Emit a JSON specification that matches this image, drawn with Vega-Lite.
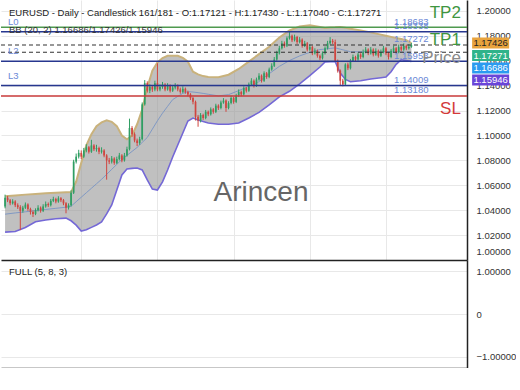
{
  "$schema": "https://vega.github.io/schema/vega-lite/v6.json",
  "padding": 0,
  "spacing": 0,
  "background": "white",
  "config": {
    "view": {"stroke": null},
    "font": "Liberation Sans",
    "axis": {"domainColor": "#222", "domainWidth": 1.5, "gridColor": "#e8e8e8", "ticks": false, "labelFont": "Liberation Sans", "labelFontSize": 9.5, "labelColor": "#333", "labelPadding": 9, "labelOverlap": false}
  },
  "datasets": {
    "bands": [
      {"i":0,"up":1.0512,"lo":1.0224,"mid":1.0368},{"i":4,"up":1.0518,"lo":1.0229,"mid":1.0378},{"i":8,"up":1.0525,"lo":1.0261,"mid":1.0387},{"i":12,"up":1.0531,"lo":1.0307,"mid":1.0397},{"i":16,"up":1.0536,"lo":1.0321,"mid":1.0406},{"i":20,"up":1.0541,"lo":1.0331,"mid":1.0415},{"i":24,"up":1.0544,"lo":1.0336,"mid":1.0424},{"i":26,"up":1.0545,"lo":1.0315,"mid":1.0432},{"i":28,"up":1.063,"lo":1.028,"mid":1.0468},{"i":30,"up":1.078,"lo":1.0232,"mid":1.0504},{"i":32,"up":1.092,"lo":1.0243,"mid":1.054},{"i":34,"up":1.101,"lo":1.0262,"mid":1.0576},{"i":36,"up":1.1075,"lo":1.0281,"mid":1.0612},{"i":38,"up":1.1105,"lo":1.0305,"mid":1.0648},{"i":40,"up":1.1122,"lo":1.037,"mid":1.0688},{"i":42,"up":1.111,"lo":1.0442,"mid":1.0728},{"i":44,"up":1.1075,"lo":1.0562,"mid":1.0768},{"i":46,"up":1.1,"lo":1.0683,"mid":1.0808},{"i":48,"up":1.097,"lo":1.0731,"mid":1.084},{"i":50,"up":1.1,"lo":1.0736,"mid":1.0872},{"i":52,"up":1.109,"lo":1.0739,"mid":1.0904},{"i":54,"up":1.1208,"lo":1.0723,"mid":1.0944},{"i":56,"up":1.1384,"lo":1.0643,"mid":1.0984},{"i":58,"up":1.152,"lo":1.057,"mid":1.1051},{"i":60,"up":1.1586,"lo":1.0562,"mid":1.1118},{"i":62,"up":1.1622,"lo":1.0627,"mid":1.1179},{"i":64,"up":1.164,"lo":1.0723,"mid":1.1234},{"i":66,"up":1.164,"lo":1.0827,"mid":1.1288},{"i":68,"up":1.164,"lo":1.0924,"mid":1.1314},{"i":70,"up":1.1624,"lo":1.102,"mid":1.1339},{"i":72,"up":1.1592,"lo":1.1116,"mid":1.1352},{"i":74,"up":1.1512,"lo":1.114,"mid":1.1349},{"i":76,"up":1.1491,"lo":1.1124,"mid":1.1344},{"i":78,"up":1.1477,"lo":1.1112,"mid":1.1338},{"i":80,"up":1.147,"lo":1.11,"mid":1.1331},{"i":84,"up":1.1468,"lo":1.109,"mid":1.1318},{"i":88,"up":1.1488,"lo":1.109,"mid":1.1328},{"i":92,"up":1.1534,"lo":1.11,"mid":1.136},{"i":96,"up":1.1593,"lo":1.114,"mid":1.1395},{"i":100,"up":1.1653,"lo":1.1185,"mid":1.1432},{"i":104,"up":1.1712,"lo":1.1245,"mid":1.1496},{"i":108,"up":1.1787,"lo":1.131,"mid":1.1555},{"i":112,"up":1.1843,"lo":1.1355,"mid":1.1602},{"i":116,"up":1.1876,"lo":1.1415,"mid":1.1639},{"i":120,"up":1.1885,"lo":1.148,"mid":1.1668},{"i":124,"up":1.1871,"lo":1.155,"mid":1.169},{"i":126,"up":1.1864,"lo":1.159,"mid":1.1694},{"i":128,"up":1.1867,"lo":1.1592,"mid":1.1699},{"i":130,"up":1.1869,"lo":1.1592,"mid":1.1704},{"i":132,"up":1.1872,"lo":1.1502,"mid":1.1693},{"i":134,"up":1.1865,"lo":1.145,"mid":1.1683},{"i":136,"up":1.1858,"lo":1.1432,"mid":1.1672},{"i":140,"up":1.1844,"lo":1.144,"mid":1.1672},{"i":144,"up":1.1828,"lo":1.1453,"mid":1.1672},{"i":148,"up":1.181,"lo":1.1464,"mid":1.1672},{"i":150,"up":1.1801,"lo":1.1469,"mid":1.1672},{"i":152,"up":1.1792,"lo":1.1512,"mid":1.1671},{"i":154,"up":1.1783,"lo":1.1571,"mid":1.1671},{"i":156,"up":1.1774,"lo":1.1608,"mid":1.167},{"i":158,"up":1.1765,"lo":1.1601,"mid":1.1669},{"i":160,"up":1.17426,"lo":1.15946,"mid":1.16686}
    ],
    "candles": [
      {"i":0,"o":1.043,"h":1.0525,"l":1.0415,"c":1.05},{"i":1,"o":1.05,"h":1.0515,"l":1.0465,"c":1.048},{"i":2,"o":1.048,"h":1.049,"l":1.044,"c":1.0455},{"i":3,"o":1.0455,"h":1.0488,"l":1.0445,"c":1.047},{"i":4,"o":1.047,"h":1.048,"l":1.0425,"c":1.044},{"i":5,"o":1.044,"h":1.0455,"l":1.041,"c":1.0425},{"i":6,"o":1.0425,"h":1.044,"l":1.024,"c":1.0395},{"i":7,"o":1.0395,"h":1.0435,"l":1.038,"c":1.042},{"i":8,"o":1.042,"h":1.0462,"l":1.041,"c":1.0445},{"i":9,"o":1.0445,"h":1.0455,"l":1.0395,"c":1.041},
      {"i":10,"o":1.041,"h":1.042,"l":1.0365,"c":1.0385},{"i":11,"o":1.0385,"h":1.0398,"l":1.0345,"c":1.037},{"i":12,"o":1.037,"h":1.0415,"l":1.036,"c":1.04},{"i":13,"o":1.04,"h":1.044,"l":1.039,"c":1.042},{"i":14,"o":1.042,"h":1.043,"l":1.038,"c":1.0395},{"i":15,"o":1.0395,"h":1.0448,"l":1.0385,"c":1.043},{"i":16,"o":1.043,"h":1.047,"l":1.042,"c":1.045},{"i":17,"o":1.045,"h":1.0462,"l":1.0425,"c":1.044},{"i":18,"o":1.044,"h":1.049,"l":1.043,"c":1.0475},{"i":19,"o":1.0475,"h":1.0508,"l":1.0465,"c":1.049},
      {"i":20,"o":1.049,"h":1.05,"l":1.0455,"c":1.047},{"i":21,"o":1.047,"h":1.0512,"l":1.046,"c":1.0495},{"i":22,"o":1.0495,"h":1.0505,"l":1.0465,"c":1.048},{"i":23,"o":1.048,"h":1.049,"l":1.044,"c":1.0455},{"i":24,"o":1.0455,"h":1.0465,"l":1.0375,"c":1.042},{"i":25,"o":1.042,"h":1.0455,"l":1.0405,"c":1.044},{"i":26,"o":1.044,"h":1.056,"l":1.043,"c":1.054},{"i":27,"o":1.054,"h":1.0805,"l":1.053,"c":1.079},{"i":28,"o":1.079,"h":1.0855,"l":1.0775,"c":1.083},{"i":29,"o":1.083,"h":1.0885,"l":1.0815,"c":1.086},
      {"i":30,"o":1.086,"h":1.088,"l":1.081,"c":1.083},{"i":31,"o":1.083,"h":1.09,"l":1.082,"c":1.088},{"i":32,"o":1.088,"h":1.093,"l":1.0865,"c":1.0905},{"i":33,"o":1.0905,"h":1.0915,"l":1.0855,"c":1.087},{"i":34,"o":1.087,"h":1.0965,"l":1.086,"c":1.092},{"i":35,"o":1.092,"h":1.093,"l":1.0875,"c":1.089},{"i":36,"o":1.089,"h":1.0925,"l":1.087,"c":1.09},{"i":37,"o":1.09,"h":1.091,"l":1.085,"c":1.087},{"i":38,"o":1.087,"h":1.0905,"l":1.0855,"c":1.088},{"i":39,"o":1.088,"h":1.089,"l":1.0825,"c":1.084},
      {"i":40,"o":1.084,"h":1.085,"l":1.0645,"c":1.08},{"i":41,"o":1.08,"h":1.082,"l":1.077,"c":1.079},{"i":42,"o":1.079,"h":1.0835,"l":1.0775,"c":1.0815},{"i":43,"o":1.0815,"h":1.0825,"l":1.0765,"c":1.078},{"i":44,"o":1.078,"h":1.083,"l":1.077,"c":1.081},{"i":45,"o":1.081,"h":1.086,"l":1.08,"c":1.084},{"i":46,"o":1.084,"h":1.085,"l":1.0785,"c":1.08},{"i":47,"o":1.08,"h":1.086,"l":1.079,"c":1.084},{"i":48,"o":1.084,"h":1.091,"l":1.083,"c":1.089},{"i":49,"o":1.089,"h":1.1135,"l":1.088,"c":1.106},
      {"i":50,"o":1.106,"h":1.1075,"l":1.099,"c":1.101},{"i":51,"o":1.101,"h":1.1025,"l":1.0945,"c":1.096},{"i":52,"o":1.096,"h":1.0975,"l":1.0915,"c":1.094},{"i":53,"o":1.094,"h":1.099,"l":1.0925,"c":1.097},{"i":54,"o":1.097,"h":1.1265,"l":1.096,"c":1.125},{"i":55,"o":1.125,"h":1.1445,"l":1.124,"c":1.142},{"i":56,"o":1.142,"h":1.1435,"l":1.1345,"c":1.136},{"i":57,"o":1.136,"h":1.141,"l":1.134,"c":1.139},{"i":58,"o":1.139,"h":1.1405,"l":1.135,"c":1.137},{"i":59,"o":1.137,"h":1.144,"l":1.1355,"c":1.142},
      {"i":60,"o":1.142,"h":1.158,"l":1.1355,"c":1.137},{"i":61,"o":1.137,"h":1.141,"l":1.1355,"c":1.139},{"i":62,"o":1.139,"h":1.143,"l":1.1375,"c":1.141},{"i":63,"o":1.141,"h":1.142,"l":1.1355,"c":1.137},{"i":64,"o":1.137,"h":1.142,"l":1.136,"c":1.14},{"i":65,"o":1.14,"h":1.141,"l":1.1345,"c":1.136},{"i":66,"o":1.136,"h":1.14,"l":1.135,"c":1.1385},{"i":67,"o":1.1385,"h":1.142,"l":1.137,"c":1.14},{"i":68,"o":1.14,"h":1.141,"l":1.1355,"c":1.137},{"i":69,"o":1.137,"h":1.1385,"l":1.1335,"c":1.135},
      {"i":70,"o":1.135,"h":1.1395,"l":1.134,"c":1.1375},{"i":71,"o":1.1375,"h":1.1385,"l":1.1335,"c":1.135},{"i":72,"o":1.135,"h":1.136,"l":1.1315,"c":1.133},{"i":73,"o":1.133,"h":1.134,"l":1.1285,"c":1.13},{"i":74,"o":1.13,"h":1.131,"l":1.125,"c":1.127},{"i":75,"o":1.127,"h":1.128,"l":1.112,"c":1.115},{"i":76,"o":1.115,"h":1.1165,"l":1.107,"c":1.112},{"i":77,"o":1.112,"h":1.118,"l":1.1105,"c":1.1165},{"i":78,"o":1.1165,"h":1.1175,"l":1.1125,"c":1.114},{"i":79,"o":1.114,"h":1.1205,"l":1.113,"c":1.119},
      {"i":80,"o":1.119,"h":1.12,"l":1.1155,"c":1.117},{"i":81,"o":1.117,"h":1.1225,"l":1.116,"c":1.121},{"i":82,"o":1.121,"h":1.122,"l":1.1175,"c":1.119},{"i":83,"o":1.119,"h":1.1255,"l":1.118,"c":1.124},{"i":84,"o":1.124,"h":1.125,"l":1.1205,"c":1.122},{"i":85,"o":1.122,"h":1.128,"l":1.121,"c":1.1265},{"i":86,"o":1.1265,"h":1.13,"l":1.1255,"c":1.128},{"i":87,"o":1.128,"h":1.129,"l":1.119,"c":1.122},{"i":88,"o":1.122,"h":1.1275,"l":1.121,"c":1.126},{"i":89,"o":1.126,"h":1.132,"l":1.125,"c":1.13},
      {"i":90,"o":1.13,"h":1.131,"l":1.1255,"c":1.127},{"i":91,"o":1.127,"h":1.1335,"l":1.126,"c":1.132},{"i":92,"o":1.132,"h":1.137,"l":1.131,"c":1.135},{"i":93,"o":1.135,"h":1.136,"l":1.1315,"c":1.133},{"i":94,"o":1.133,"h":1.1395,"l":1.132,"c":1.138},{"i":95,"o":1.138,"h":1.139,"l":1.1345,"c":1.136},{"i":96,"o":1.136,"h":1.1425,"l":1.135,"c":1.141},{"i":97,"o":1.141,"h":1.146,"l":1.14,"c":1.144},{"i":98,"o":1.144,"h":1.145,"l":1.1385,"c":1.14},{"i":99,"o":1.14,"h":1.1465,"l":1.139,"c":1.145},
      {"i":100,"o":1.145,"h":1.15,"l":1.144,"c":1.148},{"i":101,"o":1.148,"h":1.149,"l":1.1425,"c":1.144},{"i":102,"o":1.144,"h":1.1515,"l":1.143,"c":1.15},{"i":103,"o":1.15,"h":1.151,"l":1.1455,"c":1.147},{"i":104,"o":1.147,"h":1.1545,"l":1.146,"c":1.153},{"i":105,"o":1.153,"h":1.158,"l":1.152,"c":1.156},{"i":106,"o":1.156,"h":1.163,"l":1.155,"c":1.161},{"i":107,"o":1.161,"h":1.168,"l":1.16,"c":1.166},{"i":108,"o":1.166,"h":1.172,"l":1.165,"c":1.17},{"i":109,"o":1.17,"h":1.176,"l":1.169,"c":1.174},
      {"i":110,"o":1.174,"h":1.1755,"l":1.1705,"c":1.172},{"i":111,"o":1.172,"h":1.1795,"l":1.171,"c":1.178},{"i":112,"o":1.178,"h":1.183,"l":1.177,"c":1.18},{"i":113,"o":1.18,"h":1.181,"l":1.175,"c":1.1765},{"i":114,"o":1.1765,"h":1.181,"l":1.1755,"c":1.179},{"i":115,"o":1.179,"h":1.18,"l":1.1735,"c":1.175},{"i":116,"o":1.175,"h":1.179,"l":1.174,"c":1.177},{"i":117,"o":1.177,"h":1.178,"l":1.1705,"c":1.172},{"i":118,"o":1.172,"h":1.176,"l":1.171,"c":1.174},{"i":119,"o":1.174,"h":1.175,"l":1.1675,"c":1.169},
      {"i":120,"o":1.169,"h":1.173,"l":1.168,"c":1.171},{"i":121,"o":1.171,"h":1.172,"l":1.1645,"c":1.166},{"i":122,"o":1.166,"h":1.17,"l":1.165,"c":1.168},{"i":123,"o":1.168,"h":1.169,"l":1.1625,"c":1.164},{"i":124,"o":1.164,"h":1.165,"l":1.1605,"c":1.162},{"i":125,"o":1.162,"h":1.1675,"l":1.161,"c":1.166},{"i":126,"o":1.166,"h":1.1715,"l":1.165,"c":1.17},{"i":127,"o":1.17,"h":1.176,"l":1.169,"c":1.174},{"i":128,"o":1.174,"h":1.179,"l":1.173,"c":1.176},{"i":129,"o":1.176,"h":1.1775,"l":1.1735,"c":1.175},
      {"i":130,"o":1.175,"h":1.177,"l":1.159,"c":1.16},{"i":131,"o":1.16,"h":1.161,"l":1.1505,"c":1.152},{"i":132,"o":1.152,"h":1.153,"l":1.14,"c":1.144},{"i":133,"o":1.144,"h":1.1455,"l":1.1395,"c":1.141},{"i":134,"o":1.141,"h":1.158,"l":1.14,"c":1.157},{"i":135,"o":1.157,"h":1.1585,"l":1.1525,"c":1.154},{"i":136,"o":1.154,"h":1.1615,"l":1.153,"c":1.16},{"i":137,"o":1.16,"h":1.165,"l":1.159,"c":1.163},{"i":138,"o":1.163,"h":1.164,"l":1.1595,"c":1.161},{"i":139,"o":1.161,"h":1.1665,"l":1.16,"c":1.165},
      {"i":140,"o":1.165,"h":1.166,"l":1.1615,"c":1.163},{"i":141,"o":1.163,"h":1.169,"l":1.162,"c":1.167},{"i":142,"o":1.167,"h":1.171,"l":1.166,"c":1.169},{"i":143,"o":1.169,"h":1.17,"l":1.1645,"c":1.166},{"i":144,"o":1.166,"h":1.171,"l":1.165,"c":1.169},{"i":145,"o":1.169,"h":1.17,"l":1.1635,"c":1.165},{"i":146,"o":1.165,"h":1.17,"l":1.164,"c":1.168},{"i":147,"o":1.168,"h":1.169,"l":1.1625,"c":1.164},{"i":148,"o":1.164,"h":1.169,"l":1.163,"c":1.167},{"i":149,"o":1.167,"h":1.172,"l":1.166,"c":1.17},
      {"i":150,"o":1.17,"h":1.171,"l":1.1645,"c":1.166},{"i":151,"o":1.166,"h":1.167,"l":1.161,"c":1.163},{"i":152,"o":1.163,"h":1.1695,"l":1.162,"c":1.168},{"i":153,"o":1.168,"h":1.172,"l":1.167,"c":1.17},{"i":154,"o":1.17,"h":1.171,"l":1.1655,"c":1.167},{"i":155,"o":1.167,"h":1.173,"l":1.166,"c":1.171},{"i":156,"o":1.171,"h":1.172,"l":1.1675,"c":1.169},{"i":157,"o":1.169,"h":1.174,"l":1.168,"c":1.172},{"i":158,"o":1.172,"h":1.173,"l":1.1685,"c":1.17},{"i":159,"o":1.17,"h":1.1735,"l":1.169,"c":1.17121},
      {"i":160,"o":1.17121,"h":1.1743,"l":1.1704,"c":1.17271}
    ],
    "dashed": [{"v":1.17272},{"v":1.16686},{"v":1.15946}],
    "pivots": [{"name":"L0","v":1.18338},{"name":"L2","v":1.15953},{"name":"L3","v":1.14009}],
    "tp": [{"v":1.18683}],
    "sl": [{"v":1.1318}],
    "levelLabels": [{"v":1.18683},{"v":1.18338},{"v":1.17272},{"v":1.15953},{"v":1.14009},{"v":1.1318}],
    "tags": [{"name":"upper","v":1.17426},{"name":"close","v":1.17271},{"name":"middle","v":1.16686},{"name":"lower","v":1.15946}]
  },
  "vconcat": [
    {
      "width": 466,
      "height": 260,
      "layer": [
        {
          "data": {"name": "bands"},
          "mark": {"type": "area", "color": "#9a9a9a", "opacity": 0.62},
          "encoding": {
            "x": {"field": "i", "type": "quantitative", "title": null, "scale": {"domain": [-1.6, 181.9], "nice": false, "zero": false},
                  "axis": {"orient": "bottom", "values": [30, 60, 90, 120, 150], "labels": false, "ticks": false, "grid": true, "domain": true, "title": null}},
            "y": {"field": "up", "type": "quantitative", "title": null, "scale": {"domain": [1.0, 1.2088], "nice": false, "zero": false},
                  "axis": {"orient": "right", "values": [1.0, 1.02, 1.04, 1.06, 1.08, 1.1, 1.12, 1.14, 1.16, 1.18, 1.2], "tickCount": 20, "format": ".5f", "grid": true, "domain": true, "title": null, "labelAlign": "left", "labelOverlap": false,
                           "labelOffset": {"condition": {"test": "datum.value < 1.001", "value": -9}, "value": 0}}},
            "y2": {"field": "lo"}
          }
        },
        {
          "data": {"name": "bands"},
          "mark": {"type": "line", "color": "#c9b27c", "strokeWidth": 2},
          "encoding": {
            "x": {"field": "i", "type": "quantitative", "title": null, "scale": {"domain": [-1.6, 181.9], "nice": false, "zero": false}},
            "y": {"field": "up", "type": "quantitative", "title": null, "scale": {"domain": [1.0, 1.2088], "nice": false, "zero": false}}
          }
        },
        {
          "data": {"name": "bands"},
          "mark": {"type": "line", "color": "#7468d6", "strokeWidth": 1.6},
          "encoding": {
            "x": {"field": "i", "type": "quantitative", "title": null, "scale": {"domain": [-1.6, 181.9], "nice": false, "zero": false}},
            "y": {"field": "lo", "type": "quantitative", "title": null, "scale": {"domain": [1.0, 1.2088], "nice": false, "zero": false}}
          }
        },
        {
          "data": {"name": "bands"},
          "mark": {"type": "line", "color": "#8099c4", "strokeWidth": 1},
          "encoding": {
            "x": {"field": "i", "type": "quantitative", "title": null, "scale": {"domain": [-1.6, 181.9], "nice": false, "zero": false}},
            "y": {"field": "mid", "type": "quantitative", "title": null, "scale": {"domain": [1.0, 1.2088], "nice": false, "zero": false}}
          }
        },
        {
          "data": {"name": "candles"},
          "mark": {"type": "rule", "strokeWidth": 1},
          "encoding": {
            "x": {"field": "i", "type": "quantitative", "title": null, "scale": {"domain": [-1.6, 181.9], "nice": false, "zero": false}},
            "y": {"field": "l", "type": "quantitative", "title": null, "scale": {"domain": [1.0, 1.2088], "nice": false, "zero": false}},
            "y2": {"field": "h"},
            "color": {"condition": {"test": "datum.c >= datum.o", "value": "#2f9e63"}, "value": "#d0453f"}
          }
        },
        {
          "data": {"name": "candles"},
          "mark": {"type": "rule", "strokeWidth": 1.7},
          "encoding": {
            "x": {"field": "i", "type": "quantitative", "title": null, "scale": {"domain": [-1.6, 181.9], "nice": false, "zero": false}},
            "y": {"field": "o", "type": "quantitative", "title": null, "scale": {"domain": [1.0, 1.2088], "nice": false, "zero": false}},
            "y2": {"field": "c"},
            "color": {"condition": {"test": "datum.c >= datum.o", "value": "#2f9e63"}, "value": "#d0453f"}
          }
        },
        {
          "data": {"name": "dashed"},
          "mark": {"type": "rule", "color": "#333", "strokeWidth": 1.1, "strokeDash": [4, 3]},
          "encoding": {
            "y": {"field": "v", "type": "quantitative", "title": null, "scale": {"domain": [1.0, 1.2088], "nice": false, "zero": false}}
          }
        },
        {
          "data": {"name": "pivots"},
          "mark": {"type": "rule", "color": "#27378f", "strokeWidth": 1.5},
          "encoding": {
            "y": {"field": "v", "type": "quantitative", "title": null, "scale": {"domain": [1.0, 1.2088], "nice": false, "zero": false}}
          }
        },
        {
          "data": {"name": "tp"},
          "mark": {"type": "rule", "color": "#4f9a4f", "strokeWidth": 1.5},
          "encoding": {
            "y": {"field": "v", "type": "quantitative", "title": null, "scale": {"domain": [1.0, 1.2088], "nice": false, "zero": false}}
          }
        },
        {
          "data": {"name": "sl"},
          "mark": {"type": "rule", "color": "#c83a3a", "strokeWidth": 1.5},
          "encoding": {
            "y": {"field": "v", "type": "quantitative", "title": null, "scale": {"domain": [1.0, 1.2088], "nice": false, "zero": false}}
          }
        },
        {
          "data": {"name": "levelLabels"},
          "mark": {"type": "text", "align": "left", "baseline": "middle", "dy": -5.5, "fontSize": 9.5, "color": "#6a88d6"},
          "encoding": {
            "x": {"datum": 153.2, "type": "quantitative", "title": null, "scale": {"domain": [-1.6, 181.9], "nice": false, "zero": false}},
            "y": {"field": "v", "type": "quantitative", "title": null, "scale": {"domain": [1.0, 1.2088], "nice": false, "zero": false}},
            "text": {"field": "v", "type": "quantitative", "format": ".5f"}
          }
        },
        {
          "data": {"name": "pivots"},
          "mark": {"type": "text", "align": "left", "baseline": "middle", "dy": -10, "fontSize": 9.5, "color": "#6a88d6"},
          "encoding": {
            "x": {"datum": 1.16, "type": "quantitative", "title": null, "scale": {"domain": [-1.6, 181.9], "nice": false, "zero": false}},
            "y": {"field": "v", "type": "quantitative", "title": null, "scale": {"domain": [1.0, 1.2088], "nice": false, "zero": false}},
            "text": {"field": "name"}
          }
        },
        {
          "data": {"values": [{"t": "EURUSD - Daily - Candlestick    161/181 - O:1.17121 - H:1.17430 - L:1.17040 - C:1.17271"}]},
          "mark": {"type": "text", "align": "left", "baseline": "middle", "fontSize": 9.5, "color": "#222"},
          "encoding": {
            "x": {"datum": 1.55, "type": "quantitative", "title": null, "scale": {"domain": [-1.6, 181.9], "nice": false, "zero": false}},
            "y": {"datum": 1.19836, "type": "quantitative", "title": null, "scale": {"domain": [1.0, 1.2088], "nice": false, "zero": false}},
            "text": {"field": "t"}
          }
        },
        {
          "data": {"values": [{"t": "BB (20, 2)   1.16686/1.17426/1.15946"}]},
          "mark": {"type": "text", "align": "left", "baseline": "middle", "fontSize": 9.5, "color": "#333"},
          "encoding": {
            "x": {"datum": 1.55, "type": "quantitative", "title": null, "scale": {"domain": [-1.6, 181.9], "nice": false, "zero": false}},
            "y": {"datum": 1.18471, "type": "quantitative", "title": null, "scale": {"domain": [1.0, 1.2088], "nice": false, "zero": false}},
            "text": {"field": "t"}
          }
        },
        {
          "data": {"values": [{"t": "Arincen"}]},
          "mark": {"type": "text", "align": "center", "baseline": "middle", "fontSize": 28, "color": "#666"},
          "encoding": {
            "x": {"datum": 100.8, "type": "quantitative", "title": null, "scale": {"domain": [-1.6, 181.9], "nice": false, "zero": false}},
            "y": {"datum": 1.0538, "type": "quantitative", "title": null, "scale": {"domain": [1.0, 1.2088], "nice": false, "zero": false}},
            "text": {"field": "t"}
          }
        },
        {
          "data": {"values": [{"t": "TP2"}]},
          "mark": {"type": "text", "align": "right", "baseline": "middle", "fontSize": 17, "color": "#3f963f"},
          "encoding": {
            "x": {"datum": 179.5, "type": "quantitative", "title": null, "scale": {"domain": [-1.6, 181.9], "nice": false, "zero": false}},
            "y": {"datum": 1.19796, "type": "quantitative", "title": null, "scale": {"domain": [1.0, 1.2088], "nice": false, "zero": false}},
            "text": {"field": "t"}
          }
        },
        {
          "data": {"values": [{"t": "TP1"}]},
          "mark": {"type": "text", "align": "right", "baseline": "middle", "fontSize": 17, "color": "#3f963f"},
          "encoding": {
            "x": {"datum": 179.5, "type": "quantitative", "title": null, "scale": {"domain": [-1.6, 181.9], "nice": false, "zero": false}},
            "y": {"datum": 1.17668, "type": "quantitative", "title": null, "scale": {"domain": [1.0, 1.2088], "nice": false, "zero": false}},
            "text": {"field": "t"}
          }
        },
        {
          "data": {"values": [{"t": "Price"}]},
          "mark": {"type": "text", "align": "right", "baseline": "middle", "fontSize": 17, "color": "#8a8a8a"},
          "encoding": {
            "x": {"datum": 179.5, "type": "quantitative", "title": null, "scale": {"domain": [-1.6, 181.9], "nice": false, "zero": false}},
            "y": {"datum": 1.16222, "type": "quantitative", "title": null, "scale": {"domain": [1.0, 1.2088], "nice": false, "zero": false}},
            "text": {"field": "t"}
          }
        },
        {
          "data": {"values": [{"t": "SL"}]},
          "mark": {"type": "text", "align": "right", "baseline": "middle", "fontSize": 17, "color": "#d33a3a"},
          "encoding": {
            "x": {"datum": 179.5, "type": "quantitative", "title": null, "scale": {"domain": [-1.6, 181.9], "nice": false, "zero": false}},
            "y": {"datum": 1.12126, "type": "quantitative", "title": null, "scale": {"domain": [1.0, 1.2088], "nice": false, "zero": false}},
            "text": {"field": "t"}
          }
        },
        {
          "data": {"name": "tags"},
          "transform": [{"filter": "datum.name == 'upper'"}],
          "layer": [
            {"mark": {"type": "tick", "orient": "horizontal", "size": 37, "thickness": 11, "color": "#e8a33d", "opacity": 1}},
            {"mark": {"type": "text", "align": "center", "baseline": "middle", "fontSize": 9.5, "color": "#222"}, "encoding": {"text": {"field": "v", "type": "quantitative", "format": ".5f"}}}
          ],
          "encoding": {
            "x": {"datum": 191.2, "type": "quantitative", "title": null, "scale": {"domain": [-1.6, 181.9], "nice": false, "zero": false}},
            "y": {"field": "v", "type": "quantitative", "title": null, "scale": {"domain": [1.0, 1.2088], "nice": false, "zero": false}}
          }
        },
        {
          "data": {"name": "tags"},
          "transform": [{"filter": "datum.name == 'close'"}],
          "layer": [
            {"mark": {"type": "tick", "orient": "horizontal", "size": 37, "thickness": 11, "color": "#2fb38a", "opacity": 1, "yOffset": 10.6}},
            {"mark": {"type": "text", "align": "center", "baseline": "middle", "fontSize": 9.5, "color": "white", "dy": 10.6}, "encoding": {"text": {"field": "v", "type": "quantitative", "format": ".5f"}}}
          ],
          "encoding": {
            "x": {"datum": 191.2, "type": "quantitative", "title": null, "scale": {"domain": [-1.6, 181.9], "nice": false, "zero": false}},
            "y": {"field": "v", "type": "quantitative", "title": null, "scale": {"domain": [1.0, 1.2088], "nice": false, "zero": false}}
          }
        },
        {
          "data": {"name": "tags"},
          "transform": [{"filter": "datum.name == 'middle'"}],
          "layer": [
            {"mark": {"type": "tick", "orient": "horizontal", "size": 37, "thickness": 11, "color": "#2b9bf0", "opacity": 1, "yOffset": 15.8}},
            {"mark": {"type": "text", "align": "center", "baseline": "middle", "fontSize": 9.5, "color": "white", "dy": 15.8}, "encoding": {"text": {"field": "v", "type": "quantitative", "format": ".5f"}}}
          ],
          "encoding": {
            "x": {"datum": 191.2, "type": "quantitative", "title": null, "scale": {"domain": [-1.6, 181.9], "nice": false, "zero": false}},
            "y": {"field": "v", "type": "quantitative", "title": null, "scale": {"domain": [1.0, 1.2088], "nice": false, "zero": false}}
          }
        },
        {
          "data": {"name": "tags"},
          "transform": [{"filter": "datum.name == 'lower'"}],
          "layer": [
            {"mark": {"type": "tick", "orient": "horizontal", "size": 37, "thickness": 11, "color": "#6a45d8", "opacity": 1, "yOffset": 18.6}},
            {"mark": {"type": "text", "align": "center", "baseline": "middle", "fontSize": 9.5, "color": "white", "dy": 18.6}, "encoding": {"text": {"field": "v", "type": "quantitative", "format": ".5f"}}}
          ],
          "encoding": {
            "x": {"datum": 191.2, "type": "quantitative", "title": null, "scale": {"domain": [-1.6, 181.9], "nice": false, "zero": false}},
            "y": {"field": "v", "type": "quantitative", "title": null, "scale": {"domain": [1.0, 1.2088], "nice": false, "zero": false}}
          }
        }
      ]
    },
    {
      "width": 466,
      "height": 108,
      "layer": [
        {
          "data": {"values": [{"t": "FULL (5, 8, 3)"}]},
          "mark": {"type": "text", "align": "left", "baseline": "middle", "fontSize": 9.5, "color": "#222"},
          "encoding": {
            "x": {"datum": 1.55, "type": "quantitative", "scale": {"domain": [-1.6, 181.9], "nice": false, "zero": false},
                  "axis": {"orient": "bottom", "labels": false, "ticks": false, "grid": false, "domain": true, "title": null}},
            "y": {"datum": 0.977, "type": "quantitative", "scale": {"domain": [-1.256, 1.256], "nice": false, "zero": false},
                  "axis": {"orient": "right", "values": [-1, 0, 1], "labelExpr": "datum.value == 0 ? '0' : format(datum.value, '.5f')", "grid": true, "domain": true, "title": null, "labelAlign": "left", "labelOverlap": false}},
            "text": {"field": "t"}
          }
        }
      ]
    }
  ]
}
